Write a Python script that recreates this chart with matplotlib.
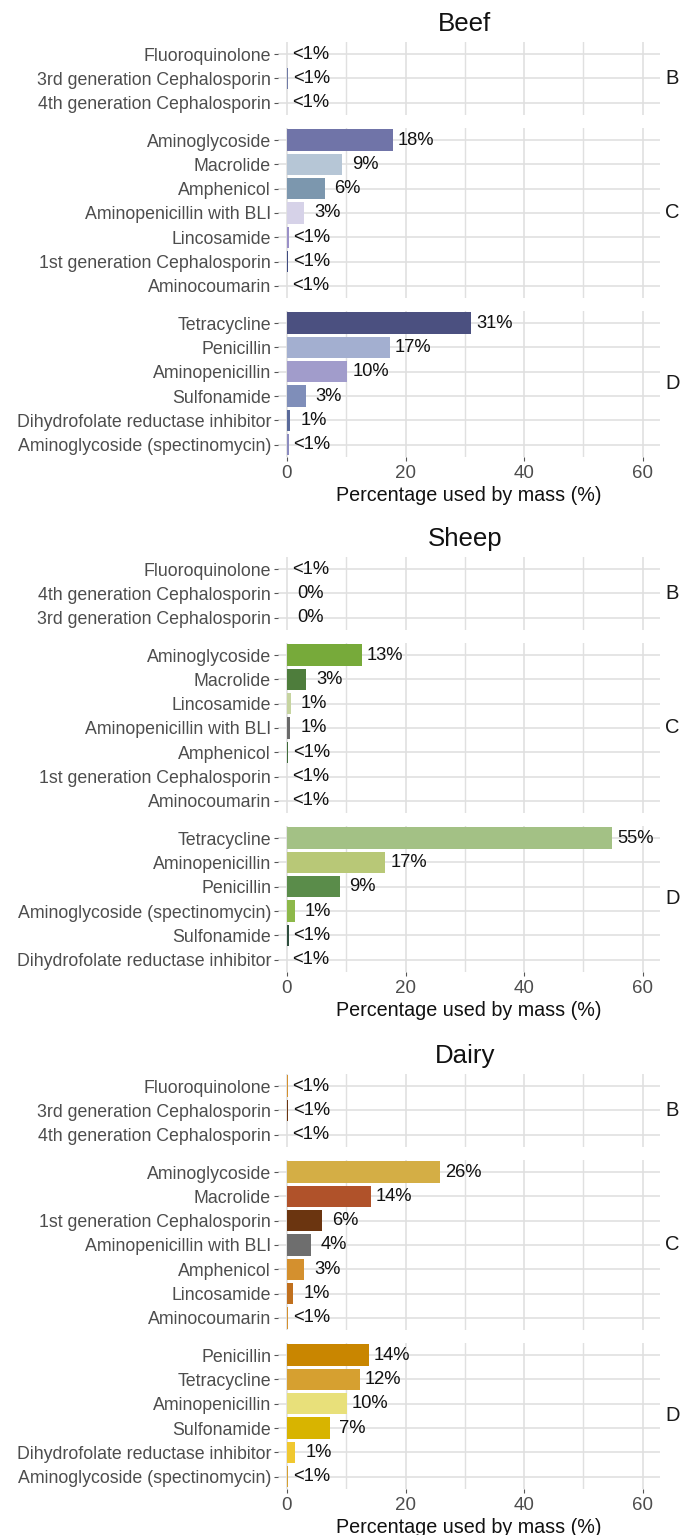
import matplotlib.pyplot as plt
import numpy as np

plt.rcParams['font.family'] = ['Liberation Sans', 'DejaVu Sans']

# ---- data ----
beef_B = ["Fluoroquinolone", "3rd generation Cephalosporin", "4th generation Cephalosporin"]
beef_B_val = [0.05, 0.25, 0.05]
beef_B_col = ["#c9c3dc", "#6f7aa6", "#d8d4e8"]
beef_C = ["Aminoglycoside", "Macrolide", "Amphenicol", "Aminopenicillin with BLI",
          "Lincosamide", "1st generation Cephalosporin", "Aminocoumarin"]
beef_C_val = [17.9, 9.3, 6.35, 2.9, 0.3, 0.25, 0.05]
beef_C_col = ["#7074a8", "#b6c6d6", "#7c97ae", "#d6d2e8", "#9a90c8", "#3e4a80", "#c9c3dc"]
beef_D = ["Tetracycline", "Penicillin", "Aminopenicillin", "Sulfonamide",
          "Dihydrofolate reductase inhibitor", "Aminoglycoside (spectinomycin)"]
beef_D_val = [31.1, 17.3, 10.2, 3.15, 0.6, 0.3]
beef_D_col = ["#4b5080", "#a3afd0", "#a19ccb", "#7f8eb9", "#5a6a9a", "#8c8cc0"]

sheep_B = ["Fluoroquinolone", "4th generation Cephalosporin", "3rd generation Cephalosporin"]
sheep_B_val = [0.05, 0.0, 0.0]
sheep_B_col = ["#b8c877", "#77aa3a", "#4d7a3a"]
sheep_C = ["Aminoglycoside", "Macrolide", "Lincosamide", "Aminopenicillin with BLI",
           "Amphenicol", "1st generation Cephalosporin", "Aminocoumarin"]
sheep_C_val = [12.6, 3.3, 0.7, 0.6, 0.2, 0.05, 0.05]
sheep_C_col = ["#77aa3a", "#4e7d3c", "#c6d4a0", "#6a6a6a", "#3f6b3a", "#a3c185", "#c6d4a0"]
sheep_D = ["Tetracycline", "Aminopenicillin", "Penicillin", "Aminoglycoside (spectinomycin)",
           "Sulfonamide", "Dihydrofolate reductase inhibitor"]
sheep_D_val = [54.8, 16.6, 8.9, 1.35, 0.3, 0.05]
sheep_D_col = ["#a3c185", "#b8c877", "#5a8c4a", "#8db84a", "#2f4f3f", "#c6d4a0"]

dairy_B = ["Fluoroquinolone", "3rd generation Cephalosporin", "4th generation Cephalosporin"]
dairy_B_val = [0.15, 0.2, 0.1]
dairy_B_col = ["#d4902e", "#6b3510", "#e0c070"]
dairy_C = ["Aminoglycoside", "Macrolide", "1st generation Cephalosporin", "Aminopenicillin with BLI",
           "Amphenicol", "Lincosamide", "Aminocoumarin"]
dairy_C_val = [25.8, 14.1, 5.96, 4.0, 2.9, 1.1, 0.2]
dairy_C_col = ["#d4ae45", "#b0522a", "#6b3510", "#6e6e6e", "#d4902e", "#c0701e", "#d4902e"]
dairy_D = ["Penicillin", "Tetracycline", "Aminopenicillin", "Sulfonamide",
           "Dihydrofolate reductase inhibitor", "Aminoglycoside (spectinomycin)"]
dairy_D_val = [13.8, 12.3, 10.1, 7.2, 1.4, 0.2]
dairy_D_col = ["#c98600", "#d6a030", "#e8e07a", "#d8b400", "#f0c830", "#d6a030"]

blocks = [
    ("Beef", 42, [("B", beef_B, beef_B_val, beef_B_col),
                  ("C", beef_C, beef_C_val, beef_C_col),
                  ("D", beef_D, beef_D_val, beef_D_col)]),
    ("Sheep", 557, [("B", sheep_B, sheep_B_val, sheep_B_col),
                    ("C", sheep_C, sheep_C_val, sheep_C_col),
                    ("D", sheep_D, sheep_D_val, sheep_D_col)]),
    ("Dairy", 1074, [("B", dairy_B, dairy_B_val, dairy_B_col),
                     ("C", dairy_C, dairy_C_val, dairy_C_col),
                     ("D", dairy_D, dairy_D_val, dairy_D_col)]),
]


def pct_label(v):
    if v == 0:
        return "0%"
    if v < 0.5:
        return "<1%"
    return "%d%%" % round(v)


W, H = 692, 1535
fig = plt.figure(figsize=(W / 100, H / 100), dpi=100)

ROW = 24.3
GAP = 13
LEFT, RIGHT = 278, 660
XMIN, XMAX = -1.5, 62.9
grid_col = "#e0e0e0"

for title, top, facets in blocks:
    y = top
    for k, (strip, cats, vals, cols) in enumerate(facets):
        h = len(cats) * ROW
        ax = fig.add_axes([LEFT / W, 1 - (y + h) / H, (RIGHT - LEFT) / W, h / H])
        pos = np.arange(len(cats))
        ax.barh(pos, vals, height=0.88, color=cols, zorder=3)
        for p, v in zip(pos, vals):
            ax.text(v + 3.9, p, pct_label(v), ha="center", va="center",
                    fontsize=13.2, color="#111111", zorder=4)
        ax.set_xlim(XMIN, XMAX)
        ax.set_ylim(len(cats) - 0.5, -0.5)
        ax.set_yticks(pos)
        ax.set_yticklabels(cats, fontsize=12.75, color="#4d4d4d")
        ax.set_xticks([0, 20, 40, 60])
        ax.set_xticks([10, 30, 50], minor=True)
        ax.grid(True, which="major", color=grid_col, linewidth=1.2, zorder=0)
        ax.grid(True, which="minor", axis="x", color=grid_col, linewidth=1.0, zorder=0)
        for s in ax.spines.values():
            s.set_visible(False)
        ax.tick_params(axis="y", length=3, width=0.8, color="#555555", pad=2)
        ax.tick_params(which="minor", length=0)
        if k == 2:
            ax.tick_params(axis="x", length=3, width=0.8, color="#555555", pad=3,
                           labelsize=13.5, labelcolor="#4d4d4d")
            ax.set_xlabel("Percentage used by mass (%)", fontsize=14.2, color="#111111", labelpad=3)
        else:
            ax.tick_params(axis="x", length=0, labelbottom=False)
        ax.text(1.032, 0.5, strip, transform=ax.transAxes, ha="center", va="center",
                fontsize=14.5, color="#1a1a1a")
        y += h + GAP
    fig.text(465 / W, 1 - (top - 18) / H, title, ha="center", va="center",
             fontsize=18.6, color="#111111")

fig.savefig("out.png", dpi=100)
